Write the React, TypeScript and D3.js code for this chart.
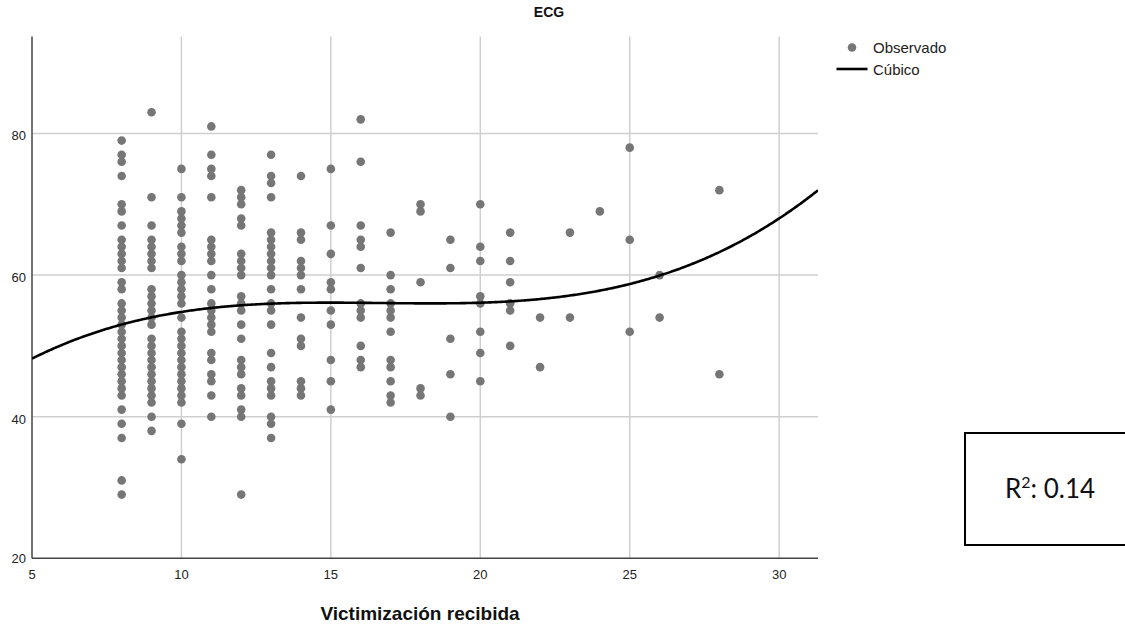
import React from "react";
import * as d3 from "d3";

// ---- Data ----
const xColumns = [8, 9, 10, 11, 12, 13, 14, 15, 16, 17, 18, 19, 20, 21, 22, 23, 24, 25, 26, 28];
const ecgAt8 = [79, 77, 76, 74, 70, 69, 67, 65, 64, 63, 62, 61, 59, 58, 56, 55, 54, 53, 52, 51, 50, 49, 48, 47, 46, 45, 44, 43, 41, 39, 37, 31, 29];
const ecgAt9 = [83, 71, 67, 65, 64, 63, 62, 61, 58, 57, 56, 55, 54, 53, 51, 50, 49, 48, 47, 46, 45, 44, 43, 42, 40, 38];
const ecgAt10 = [75, 71, 69, 68, 67, 66, 64, 63, 62, 60, 59, 58, 57, 56, 54, 52, 51, 50, 49, 48, 47, 46, 45, 44, 43, 42, 39, 34];
const ecgAt11 = [81, 77, 75, 74, 71, 65, 64, 63, 62, 60, 58, 56, 55, 54, 53, 52, 49, 48, 46, 45, 43, 40];
const ecgAt12 = [72, 71, 70, 68, 67, 63, 62, 61, 60, 57, 56, 55, 53, 51, 48, 47, 46, 44, 43, 41, 40, 29];
const ecgAt13 = [77, 74, 73, 71, 66, 65, 64, 63, 62, 61, 60, 58, 56, 55, 53, 49, 47, 45, 44, 43, 40, 39, 37];
const ecgAt14 = [74, 66, 65, 62, 61, 60, 58, 54, 51, 50, 45, 44, 43];
const ecgAt15 = [75, 67, 63, 59, 58, 55, 53, 48, 45, 41];
const ecgAt16 = [82, 76, 67, 65, 64, 61, 56, 55, 54, 50, 48, 47];
const ecgAt17 = [66, 60, 58, 56, 55, 54, 52, 48, 47, 45, 43, 42];
const ecgAt18 = [70, 69, 59, 44, 43];
const ecgAt19 = [65, 61, 51, 46, 40];
const ecgAt20 = [70, 64, 62, 57, 56, 52, 49, 45];
const ecgAt21 = [66, 62, 59, 56, 55, 50];
const ecgAt22 = [54, 47];
const ecgAt23 = [66, 54];
const ecgAt24 = [69];
const ecgAt25 = [78, 65, 52];
const ecgAt26 = [60, 54];
const ecgAt28 = [72, 46];
const ecgColumns = [ecgAt8, ecgAt9, ecgAt10, ecgAt11, ecgAt12, ecgAt13, ecgAt14, ecgAt15, ecgAt16, ecgAt17, ecgAt18, ecgAt19, ecgAt20, ecgAt21, ecgAt22, ecgAt23, ecgAt24, ecgAt25, ecgAt26, ecgAt28];

// cubic fit in t = (x - 15) / 5 : a + b t + c t^2 + d t^3
const cubicCoefs = [56.11, -0.0117, -0.66, 0.6617];

const xTicks = [5, 10, 15, 20, 25, 30];
const yTicks = [20, 40, 60, 80];
const xDomain = [5, 31.3];
const yDomain = [20, 93.7];
const rSquared = "0.14";

const W = 1125;
const H = 628;
const FONT = "'Liberation Sans', Arial, sans-serif";

export default function App() {
  const x = d3.scaleLinear().domain(xDomain).range([32, 818]);
  const y = d3.scaleLinear().domain(yDomain).range([558.3, 36.5]);

  const points: { x: number; y: number }[] = [];
  xColumns.forEach((xv, i) => ecgColumns[i].forEach((yv) => points.push({ x: xv, y: yv })));

  const cubic = (xv: number) => {
    const t = (xv - 15) / 5;
    return cubicCoefs[0] + cubicCoefs[1] * t + cubicCoefs[2] * t * t + cubicCoefs[3] * t * t * t;
  };
  const curveXs = d3.range(xDomain[0], xDomain[1] + 0.0001, 0.05);
  const line = d3
    .line<number>()
    .x((d) => x(d))
    .y((d) => y(cubic(d)))
    .curve(d3.curveLinear);

  const [x0, x1] = x.range();
  const [yBottom, yTop] = y.range();

  return (
    <svg width={W} height={H} style={{ position: "absolute", left: 0, top: 0, background: "#fff" }}>
      <rect x={0} y={0} width={W} height={H} fill="#fff" />
      <defs>
        <clipPath id="plot">
          <rect x={x0} y={yTop} width={x1 - x0} height={yBottom - yTop} />
        </clipPath>
      </defs>
      {/* grid */}
      {yTicks.filter((t) => t !== yDomain[0]).map((t) => (
        <line key={"gy" + t} x1={x0} x2={x1} y1={y(t)} y2={y(t)} stroke="#cfcfcf" strokeWidth={1.5} />
      ))}
      {xTicks.filter((t) => t !== xDomain[0]).map((t) => (
        <line key={"gx" + t} x1={x(t)} x2={x(t)} y1={yTop} y2={yBottom} stroke="#cfcfcf" strokeWidth={1.5} />
      ))}
      {/* axes */}
      <line x1={x0} x2={x0} y1={yTop} y2={yBottom} stroke="#444" strokeWidth={1.5} />
      <line x1={x0} x2={x1} y1={yBottom} y2={yBottom} stroke="#444" strokeWidth={1.5} />
      {/* points */}
      <g fill="#767676">
        {points.map((p, i) => (
          <circle key={i} cx={x(p.x)} cy={y(p.y)} r={4.3} />
        ))}
      </g>
      {/* cubic fit */}
      <path d={line(curveXs) || ""} fill="none" stroke="#000" strokeWidth={2.6} clipPath="url(#plot)" />
      {/* tick labels */}
      {yTicks.map((t) => (
        <text key={"ly" + t} x={26} y={y(t) + (t === yDomain[0] ? 5 : 7)} textAnchor="end" fontFamily={FONT} fontSize={13} fill="#222">
          {t}
        </text>
      ))}
      {xTicks.map((t) => (
        <text key={"lx" + t} x={x(t)} y={579} textAnchor="middle" fontFamily={FONT} fontSize={13} fill="#222">
          {t}
        </text>
      ))}
      {/* titles */}
      <text x={549} y={17} textAnchor="middle" fontFamily={FONT} fontSize={14} fontWeight="bold" fill="#111">
        ECG
      </text>
      <text x={420} y={620} textAnchor="middle" fontFamily={FONT} fontSize={19} fontWeight="bold" fill="#111">
        Victimización recibida
      </text>
      {/* legend */}
      <circle cx={852} cy={47.5} r={4.3} fill="#767676" />
      <text x={873} y={53} fontFamily={FONT} fontSize={15} fill="#222">Observado</text>
      <line x1={836.5} x2={867.5} y1={69} y2={69} stroke="#000" strokeWidth={2.6} />
      <text x={873} y={75} fontFamily={FONT} fontSize={15} fill="#222">Cúbico</text>
      {/* R2 box */}
      <rect x={965} y={433} width={170} height={112} fill="none" stroke="#000" strokeWidth={2} />
      <text x={1050} y={498} textAnchor="middle" fontFamily="Lato, 'Open Sans', sans-serif" fontSize={26} fill="#111">
        R<tspan dy={-10} fontSize={16}>2</tspan><tspan dy={10}>: {rSquared}</tspan>
      </text>
    </svg>
  );
}
